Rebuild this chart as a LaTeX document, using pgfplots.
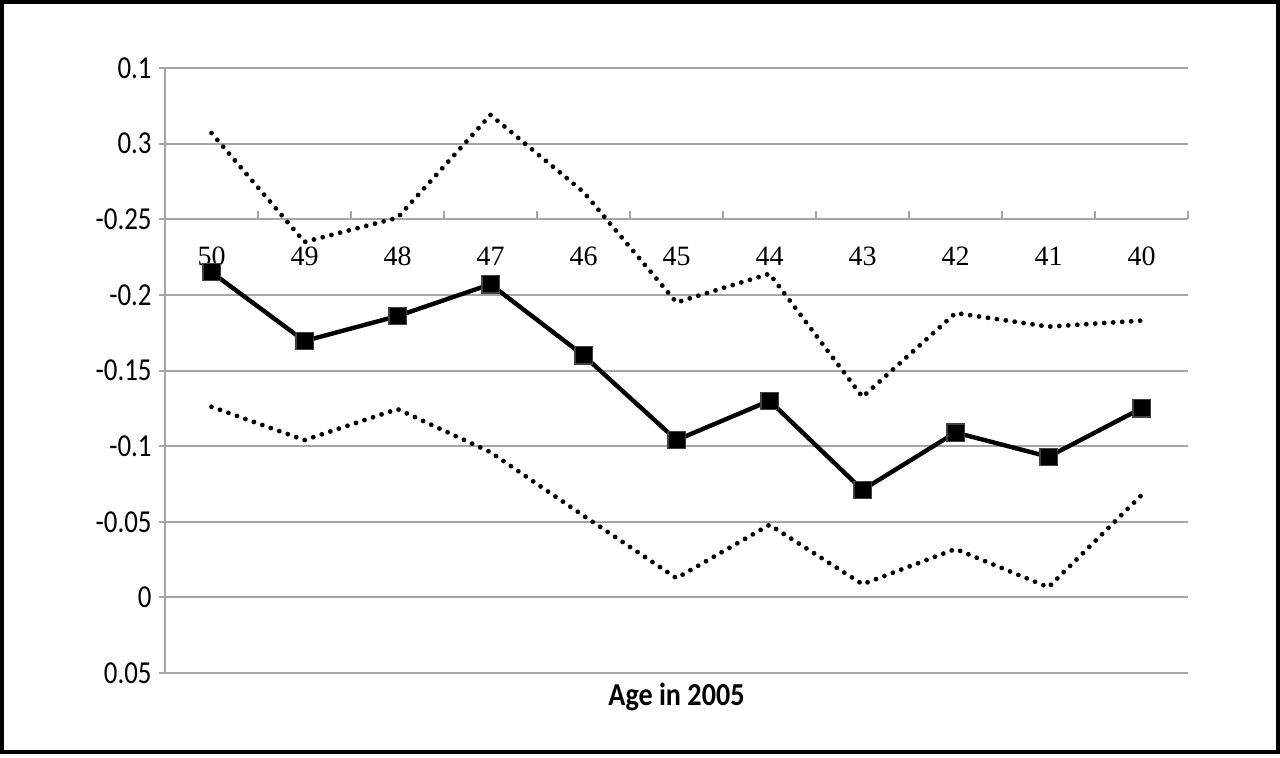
\documentclass[border=0pt]{standalone}
\usepackage{fontspec}
\usepackage{pgfplots}
\pgfplotsset{compat=1.18}
\setmainfont{Liberation Serif}
\newfontfamily\sfc[FakeStretch=0.84]{Carlito}
\newfontfamily\sft[FakeStretch=0.88]{Carlito}
\definecolor{gridgray}{RGB}{165,165,165}
\begin{document}
\begin{tikzpicture}
\useasboundingbox (0,0) rectangle (640pt,378.5pt);
\draw[line width=1.8pt] (0.9pt,2.6pt) rectangle (639.1pt,377.6pt);
\begin{axis}[
  at={(82.5pt,42pt)}, anchor=south west,
  scale only axis, width=511.5pt, height=302.5pt,
  xmin=-0.5, xmax=10.5,
  ymin=-0.35, ymax=0.05, y dir=reverse,
  axis x line=bottom, axis y line=left,
  x axis line style={draw=none},
  y axis line style={-, draw=gridgray, line width=1pt},
  xtick={0,...,10},
  xticklabels={50,49,48,47,46,45,44,43,42,41,40},
  xtick style={draw=none},
  xticklabel style={font=\fontsize{14}{16}\selectfont, anchor=base, yshift=205.5pt},
  ytick={-0.35,-0.3,-0.25,-0.2,-0.15,-0.1,-0.05,0,0.05},
  yticklabels={0.1,0.3,-0.25,-0.2,-0.15,-0.1,-0.05,0,0.05},
  yticklabel style={font=\sfc\fontsize{16}{18}\selectfont, inner sep=0pt, xshift=-3.5pt},
  ytick align=outside, major tick length=3pt,
  ytick style={draw=gridgray, line width=1pt},
  ymajorgrids, major grid style={draw=gridgray, line width=1pt},
  xlabel={Age in 2005},
  xlabel style={font=\sft\bfseries\fontsize{16}{18}\selectfont, at={(axis description cs:0.5,0)}, anchor=base, yshift=-16pt},
  clip=false,
]
% x axis line at -0.25 with category boundary ticks
\draw[gridgray, line width=1pt] (axis cs:-0.5,-0.25) -- (axis cs:10.5,-0.25);
\pgfplotsinvokeforeach{-0.5,0.5,1.5,2.5,3.5,4.5,5.5,6.5,7.5,8.5,9.5,10.5}{
  \draw[gridgray, line width=1pt] (axis cs:#1,-0.25) -- ++(0pt,4pt);
}
% upper bound (dotted)
\addplot[black, line width=2.4pt, line cap=round, dash pattern=on 0pt off 4.5pt] coordinates {
(0,-0.307) (1,-0.235) (2,-0.251) (3,-0.319) (4,-0.268) (5,-0.195)
(6,-0.214) (7,-0.1325) (8,-0.188) (9,-0.179) (10,-0.183)};
% lower bound (dotted)
\addplot[black, line width=2.4pt, line cap=round, dash pattern=on 0pt off 4.5pt] coordinates {
(0,-0.126) (1,-0.104) (2,-0.1245) (3,-0.096) (4,-0.054) (5,-0.0127)
(6,-0.048) (7,-0.0087) (8,-0.032) (9,-0.0067) (10,-0.0676)};
% estimate
\addplot[black, line width=2.2pt, mark=square*, mark size=4.3pt, mark options={solid, fill=black, draw=black!75, line width=0.6pt}] coordinates {
(0,-0.215) (1,-0.1695) (2,-0.186) (3,-0.207) (4,-0.160) (5,-0.104)
(6,-0.130) (7,-0.071) (8,-0.109) (9,-0.093) (10,-0.125)};
\end{axis}
\end{tikzpicture}
\end{document}
